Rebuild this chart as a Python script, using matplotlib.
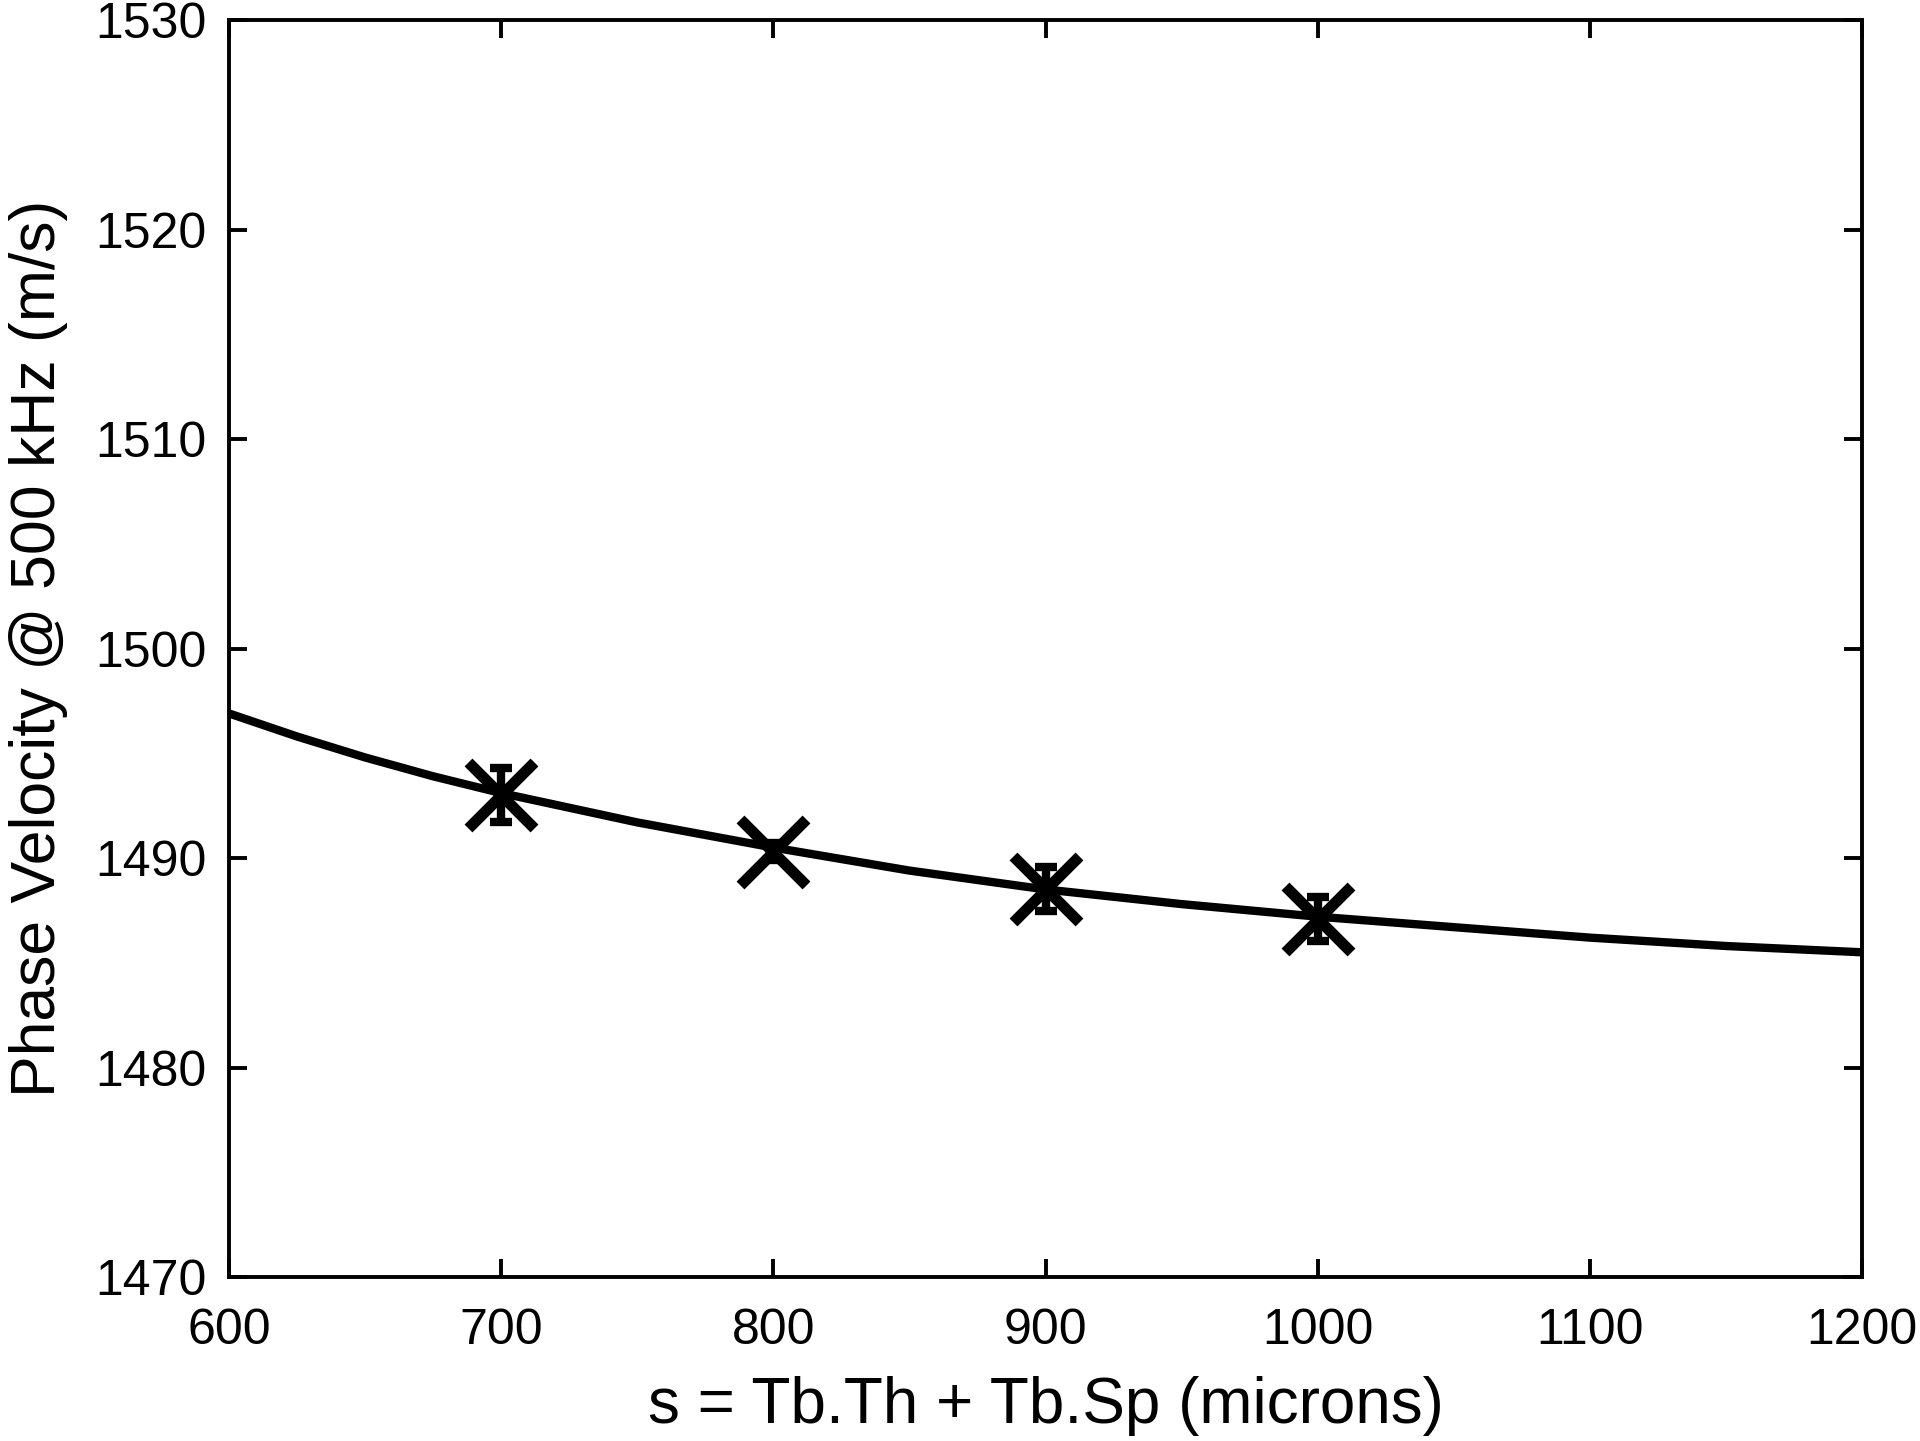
import matplotlib.pyplot as plt

plt.rcParams['font.family'] = ['Liberation Sans', 'DejaVu Sans']

# model curve
curve_s = [600, 625, 650, 675, 700, 750, 800, 850, 900, 950, 1000, 1050,
           1100, 1150, 1200]
curve_v = [1496.9, 1495.8, 1494.8, 1493.9, 1493.1, 1491.7, 1490.5, 1489.4,
           1488.5, 1487.8, 1487.2, 1486.7, 1486.2, 1485.8, 1485.5]

# measured points with error bars
meas_s = [700, 800, 900, 1000]
meas_v = [1493.0, 1490.3, 1488.5, 1487.1]
meas_err = [1.3, 0.4, 1.05, 1.05]

fig = plt.figure(figsize=(9.6, 7.205), dpi=200)
ax = fig.add_axes([0.1193, 0.1138, 0.8505, 0.8723])

ax.plot(curve_s, curve_v, color='black', lw=3.0, solid_joinstyle='round')
ax.errorbar(meas_s, meas_v, yerr=meas_err, fmt='none', ecolor='black',
            elinewidth=3, capsize=4, capthick=3)
ax.plot(meas_s, meas_v, 'x', color='black', markersize=24, mew=4.0)

ax.set_xlim(600, 1200)
ax.set_ylim(1470, 1530)
ax.set_xticks(range(600, 1201, 100))
ax.set_yticks(range(1470, 1531, 10))

for sp in ax.spines.values():
    sp.set_linewidth(1.4)
ax.tick_params(direction='in', length=6.5, width=1.4, top=True, right=True,
               labelsize=18)
ax.tick_params(axis='x', pad=11)
ax.tick_params(axis='y', pad=8)

ax.set_xlabel('s = Tb.Th + Tb.Sp (microns)', fontsize=23, labelpad=8)
ax.set_ylabel('Phase Velocity @ 500 kHz (m/s)', fontsize=22.5, labelpad=10)

fig.savefig('out.png', dpi=200)
